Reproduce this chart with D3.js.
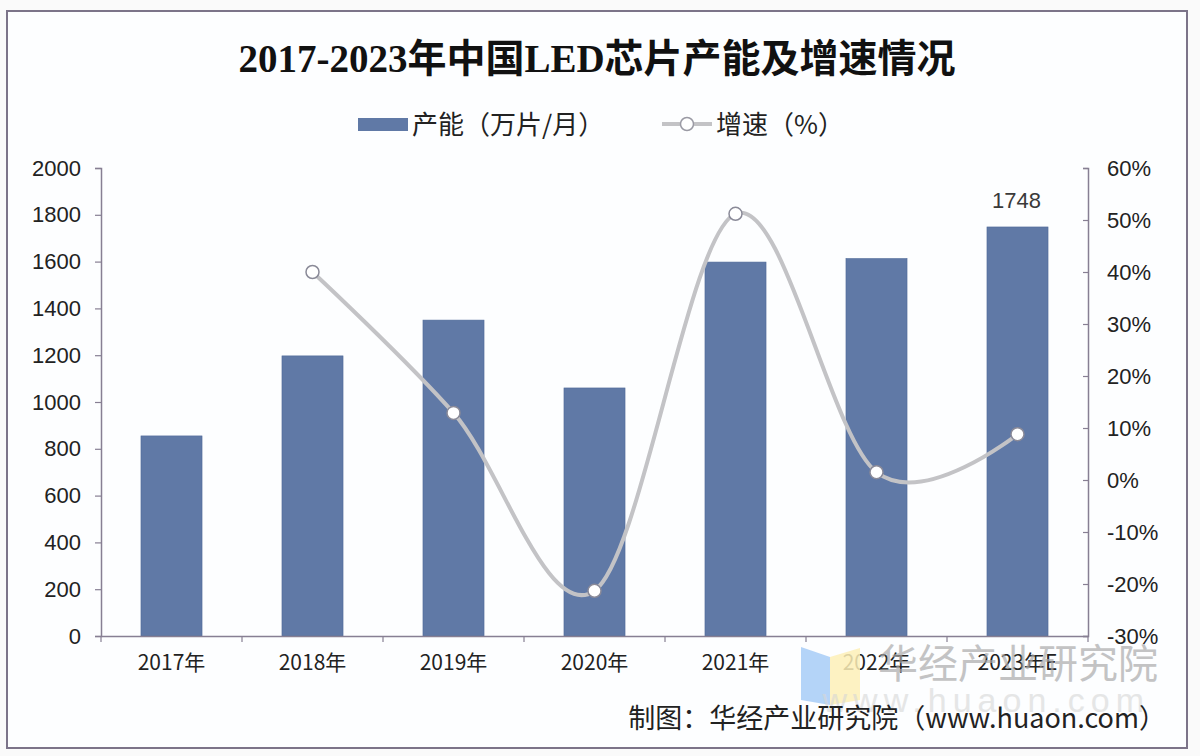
<!DOCTYPE html>
<html><head><meta charset="utf-8">
<script src="https://cdn.jsdelivr.net/npm/d3@7"></script>
<style>html,body{margin:0;padding:0;background:#fafafa}svg{display:block}</style>
</head><body><svg id="c" width="1200" height="756"></svg>
<script>
const title = "2017-2023年中国LED芯片产能及增速情况";
const categories = ["2017年","2018年","2019年","2020年","2021年","2022年","2023年E"];
const capacity = [855, 1197, 1350, 1060, 1598, 1613, 1748];
const growth = [null, 40.0, 12.9, -21.3, 51.2, 1.5, 8.8];
const leftTicks = [0,200,400,600,800,1000,1200,1400,1600,1800,2000];
const rightTicks = [-30,-20,-10,0,10,20,30,40,50,60];
const seriesNames = ["产能（万片/月）","增速（%）"];
const labelIndex = [6];
const footer = "制图：华经产业研究院（www.huaon.com）";

const svg = d3.select("#c");
const CJK = "'Noto Sans CJK SC','Noto Sans',sans-serif";
const LAT = "'Liberation Sans',Arial,sans-serif";
const axisColor = "#877f93";
const barColor = "#6079a6";

// panel
svg.append("rect").attr("x",7).attr("y",11).attr("width",1180).attr("height",737)
  .attr("fill","#fdfeff").attr("stroke","#7c7489").attr("stroke-width",2);

const L = 101, R = 1088, T = 168, B = 636;
const x = d3.scaleBand().domain(categories).range([L,R]).paddingInner(0.567).paddingOuter(0.2835);
const yL = d3.scaleLinear().domain([0,2000]).range([B,T]);
const yR = d3.scaleLinear().domain([-30,60]).range([B,T]);

// title
svg.append("text").attr("x",597).attr("y",72).attr("text-anchor","middle")
  .style("font-family","'Liberation Serif',"+CJK).style("font-weight","bold").style("font-size","39px")
  .attr("fill","#111").text(title);

// bars
svg.append("g").selectAll("rect").data(capacity).join("rect")
  .attr("x",(d,i)=>x(categories[i])).attr("width",x.bandwidth())
  .attr("y",d=>yL(d)).attr("height",d=>B-yL(d)).attr("fill",barColor)
  .attr("stroke","#4f6a98").attr("stroke-width",0.6);

// data label
svg.append("g").selectAll("text").data(labelIndex).join("text")
  .attr("x",i=>x(categories[i])+x.bandwidth()/2-1).attr("y",i=>yL(capacity[i])-19)
  .attr("text-anchor","middle").style("font-family",LAT).style("font-size","22px")
  .attr("fill","#3a3a3a").text(i=>capacity[i]);

// left axis
const gL = svg.append("g").attr("transform",`translate(${L},0)`)
  .call(d3.axisLeft(yL).tickValues(leftTicks).tickSize(6).tickPadding(14).tickFormat(d3.format("d")));
// right axis
const gR = svg.append("g").attr("transform",`translate(${R},0)`)
  .call(d3.axisRight(yR).tickValues(rightTicks).tickSize(-5).tickPadding(19).tickFormat(d=>d+"%"));
[gL,gR].forEach(g=>{
  g.select(".domain").attr("stroke",axisColor).attr("stroke-width",1.5);
  g.selectAll(".tick line").attr("stroke",axisColor).attr("stroke-width",1.2);
  g.selectAll(".tick text").style("font-family",LAT).style("font-size","22px").attr("fill","#222");
});
// x axis
const gX = svg.append("g").attr("transform",`translate(0,${B})`)
  .call(d3.axisBottom(x).tickSize(0).tickPadding(19));
gX.select(".domain").attr("stroke",axisColor).attr("stroke-width",1.5);
gX.selectAll(".tick text").style("font-family",CJK).style("font-size","21px").attr("fill","#222");
const bounds = d3.range(categories.length+1).map(i=>L+i*x.step());
gX.selectAll("line.sep").data(bounds).join("line").attr("class","sep")
  .attr("x1",d=>d).attr("x2",d=>d).attr("y1",0).attr("y2",6).attr("stroke",axisColor).attr("stroke-width",1.2);

// growth line
const pts = growth.map((g,i)=>({g,i})).filter(d=>d.g!==null);
const line = d3.line().x(d=>x(categories[d.i])+x.bandwidth()/2).y(d=>yR(d.g)).curve(d3.curveCardinal.tension(0));
svg.append("path").datum(pts).attr("d",line).attr("fill","none").attr("stroke","#c3c3c6").attr("stroke-width",4);
svg.append("g").selectAll("circle").data(pts).join("circle")
  .attr("cx",d=>x(categories[d.i])+x.bandwidth()/2).attr("cy",d=>yR(d.g)).attr("r",6.5)
  .attr("fill","#fff").attr("stroke","#8a8a98").attr("stroke-width",1.5);

// legend
const lg = svg.append("g");
lg.append("rect").attr("x",358).attr("y",118).attr("width",50).attr("height",13).attr("fill",barColor);
lg.append("text").attr("x",412).attr("y",134).style("font-family",CJK).style("font-size","26px").attr("fill","#222").text(seriesNames[0]);
lg.append("line").attr("x1",662).attr("x2",712).attr("y1",124).attr("y2",124).attr("stroke","#c3c3c6").attr("stroke-width",4);
lg.append("circle").attr("cx",687).attr("cy",124).attr("r",6.5).attr("fill","#fff").attr("stroke","#9a9aa4").attr("stroke-width",1.5);
lg.append("text").attr("x",716).attr("y",134).style("font-family",CJK).style("font-size","26px").attr("fill","#222").text(seriesNames[1]);

// watermark
const wm = svg.append("g").attr("opacity",0.85);
wm.append("path").attr("d","M801,647 L830,657 L830,705 L801,700 Z").attr("fill","#a8cdf7");
wm.append("path").attr("d","M830,657 L860,648 L860,700 L830,705 Z").attr("fill","#fdf0b8");
wm.append("text").attr("x",1158).attr("y",678).attr("text-anchor","end").style("font-family",CJK)
  .style("font-size","40px").attr("fill","#a9a9a9").attr("opacity",0.8).text("华经产业研究院");
wm.append("text").attr("x",1150).attr("y",712).attr("text-anchor","end").style("font-family",LAT)
  .style("font-size","34px").style("letter-spacing","6px").attr("fill","#d0d0d0").attr("opacity",0.6).text("www.huaon.com");

// footer
svg.append("text").attr("x",1166).attr("y",728).attr("text-anchor","end").style("font-family",CJK)
  .style("font-size","27px").attr("fill","#222").text(footer);
</script></body></html>
